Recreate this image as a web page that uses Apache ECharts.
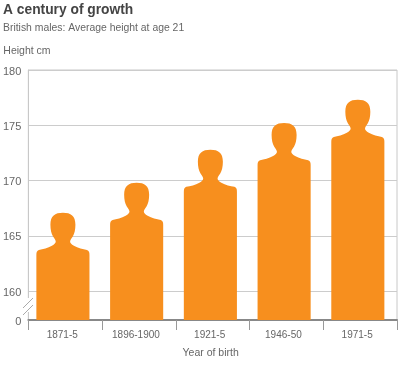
<!DOCTYPE html>
<html>
<head>
<meta charset="utf-8">
<style>
  html, body { margin: 0; padding: 0; background: #fff; }
  #chart { width: 400px; height: 366px; }
</style>
<script src="https://cdn.jsdelivr.net/npm/echarts@6/dist/echarts.min.js"></script>
</head>
<body>
<div id="chart"></div>
<script>
var categories = ['1871-5', '1896-1900', '1921-5', '1946-50', '1971-5'];
var heights = [167.1, 169.8, 172.8, 175.2, 177.3];
var axisBase = 157.4; // bottom of the broken axis, labelled 0
var tickValues = [axisBase, 160, 165, 170, 175, 180];

var fontName = '"Liberation Sans", Arial, sans-serif';
var orange = '#f78f1e';
var textGrey = '#666';

// person outline: head stays one size, body runs down to the axis
function personPath(cx, top, base, halfW) {
  function p(s, dx, dy) {
    return (cx + s * dx) + ' ' + (top + dy);
  }
  var d = 'M' + p(1, halfW, base - top) +
    'L' + p(1, halfW, 42) +
    'C' + p(1, halfW, 39.5) + ' ' + p(1, halfW - 0.5, 38) + ' ' + p(1, halfW - 2.5, 37.2) +
    'C' + p(1, 20, 36.5) + ' ' + p(1, 15, 35.5) + ' ' + p(1, 11, 33) +
    'C' + p(1, 8.5, 31.5) + ' ' + p(1, 7, 30) + ' ' + p(1, 7.2, 28.5) +
    'C' + p(1, 7.5, 26.5) + ' ' + p(1, 9, 25.5) + ' ' + p(1, 10, 23.5) +
    'C' + p(1, 11.5, 21) + ' ' + p(1, 12.5, 17) + ' ' + p(1, 12.5, 12) +
    'C' + p(1, 12.5, 3) + ' ' + p(1, 8, 0) + ' ' + p(1, 0, 0);
  d += 'C' + p(-1, 8, 0) + ' ' + p(-1, 12.5, 3) + ' ' + p(-1, 12.5, 12) +
    'C' + p(-1, 12.5, 17) + ' ' + p(-1, 11.5, 21) + ' ' + p(-1, 10, 23.5) +
    'C' + p(-1, 9, 25.5) + ' ' + p(-1, 7.5, 26.5) + ' ' + p(-1, 7.2, 28.5) +
    'C' + p(-1, 7, 30) + ' ' + p(-1, 8.5, 31.5) + ' ' + p(-1, 11, 33) +
    'C' + p(-1, 15, 35.5) + ' ' + p(-1, 20, 36.5) + ' ' + p(-1, halfW - 2.5, 37.2) +
    'C' + p(-1, halfW - 0.5, 38) + ' ' + p(-1, halfW, 39.5) + ' ' + p(-1, halfW, 42) +
    'L' + p(-1, halfW, base - top) + 'Z';
  return d;
}

var chart = echarts.init(document.getElementById('chart'), null, { renderer: 'canvas' });

chart.setOption({
  animation: false,
  backgroundColor: '#fff',
  title: {
    left: -2,
    top: -2,
    text: 'A century of growth',
    textStyle: { fontFamily: fontName, fontSize: 13.8, fontWeight: 'bold', color: '#444' },
    subtext: 'British males: Average height at age 21',
    subtextStyle: { fontFamily: fontName, fontSize: 10.4, color: textGrey },
    itemGap: 6
  },
  grid: {
    left: 28,
    right: 3,
    top: 70,
    bottom: 46,
    show: true,
    borderColor: '#c8c8c8',
    borderWidth: 1
  },
  xAxis: {
    type: 'category',
    data: categories,
    name: 'Year of birth',
    nameLocation: 'middle',
    nameGap: 28,
    nameTextStyle: { fontFamily: fontName, fontSize: 10.5, color: textGrey, padding: [0, 4, 0, 0] },
    axisLine: { lineStyle: { color: '#888', width: 2 } },
    axisTick: { show: true, alignWithLabel: false, length: 10, lineStyle: { color: '#999' } },
    axisLabel: { fontFamily: fontName, fontSize: 10, color: textGrey, margin: 10, padding: [0, 6, 0, 0] },
    splitLine: { show: false }
  },
  yAxis: {
    type: 'value',
    min: axisBase,
    max: 180,
    name: 'Height cm',
    nameLocation: 'end',
    nameGap: 13,
    nameTextStyle: { fontFamily: fontName, fontSize: 10.5, color: textGrey, align: 'left', padding: [0, 0, 0, -25] },
    axisLine: { show: true, lineStyle: { color: '#c8c8c8' } },
    axisTick: { show: false, customValues: tickValues },
    axisLabel: {
      customValues: tickValues,
      margin: 7,
      formatter: function (v) { return '{t|' + (v === axisBase ? '0' : v) + '}'; },
      rich: {
        t: { fontFamily: fontName, fontSize: 11, color: textGrey, padding: [3, 0, 0, 0] }
      }
    },
    splitLine: { show: true, lineStyle: { color: '#cccccc', width: 1 } }
  },
  series: [{
    type: 'custom',
    coordinateSystem: 'cartesian2d',
    data: heights.map(function (h, i) { return [i, h]; }),
    encode: { x: 0, y: 1 },
    z: 5,
    renderItem: function (params, api) {
      var topPt = api.coord([api.value(0), api.value(1)]);
      var basePt = api.coord([api.value(0), axisBase]);
      var halfW = api.size([1, 0])[0] * 0.36;
      return {
        type: 'path',
        // figures sit a little left of the category centre in the original
        shape: { pathData: personPath(topPt[0] - 2.3, topPt[1], basePt[1], halfW) },
        style: { fill: orange }
      };
    }
  }],
  // the break marks on the y axis
  graphic: [
    { type: 'rect', z: 10, shape: { x: 25, y: 298, width: 6, height: 14 }, style: { fill: '#fff' } },
    { type: 'line', z: 11, shape: { x1: 23, y1: 308, x2: 33, y2: 298 }, style: { stroke: '#aaa', lineWidth: 1 } },
    { type: 'line', z: 11, shape: { x1: 23, y1: 315, x2: 33, y2: 305 }, style: { stroke: '#aaa', lineWidth: 1 } }
  ]
});
</script>
</body>
</html>
